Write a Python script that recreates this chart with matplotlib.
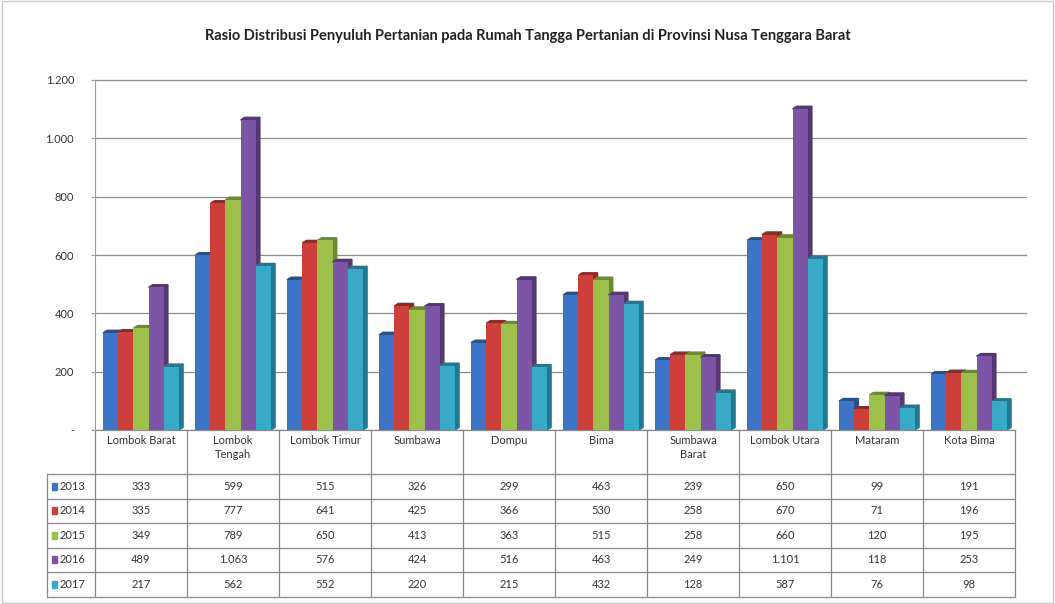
import matplotlib.pyplot as plt
import matplotlib.transforms as mtransforms
from matplotlib.patches import Polygon, Rectangle
import numpy as np

plt.rcParams['font.family'] = ['Lato', 'DejaVu Sans']

regions = ["Lombok Barat", "Lombok\nTengah", "Lombok Timur", "Sumbawa", "Dompu",
           "Bima", "Sumbawa\nBarat", "Lombok Utara", "Mataram", "Kota Bima"]
years = ["2013", "2014", "2015", "2016", "2017"]
v2013 = [333, 599, 515, 326, 299, 463, 239, 650, 99, 191]
v2014 = [335, 777, 641, 425, 366, 530, 258, 670, 71, 196]
v2015 = [349, 789, 650, 413, 363, 515, 258, 660, 120, 195]
v2016 = [489, 1063, 576, 424, 516, 463, 249, 1101, 118, 253]
v2017 = [217, 562, 552, 220, 215, 432, 128, 587, 76, 98]
series = [v2013, v2014, v2015, v2016, v2017]
yticks = [0, 200, 400, 600, 800, 1000, 1200]

colors = ['#3d74c8', '#cc3f3b', '#9dc04c', '#7d55a6', '#38aac8']
sides = ['#27508f', '#8f2a27', '#6c8a30', '#553873', '#237890']


def fmt(v):
    if v == 0:
        return "-"
    return f"{v:,}".replace(",", ".")


W, H = 1055, 604
fig = plt.figure(figsize=(W / 100, H / 100), dpi=100)
ax = fig.add_axes([95 / W, 1 - 430 / H, 920 / W, 350 / H])

x = np.arange(len(regions))
bw = 0.165
dx, dy = 0.045, 9
for i, vals in enumerate(series):
    xs = x - 2 * bw + i * bw
    ax.bar(xs, vals, bw, color=colors[i], zorder=3 + i * 0.1)
    for xc, v in zip(xs, vals):
        r = xc + bw / 2
        side = Polygon([(r, 0), (r + dx, dy), (r + dx, v + dy), (r, v)],
                       closed=True, color=sides[i], zorder=3 + i * 0.1 - 0.05)
        top = Polygon([(r - bw, v), (r - bw + dx, v + dy), (r + dx, v + dy), (r, v)],
                      closed=True, color=sides[i], zorder=3 + i * 0.1 - 0.05)
        ax.add_patch(side)
        ax.add_patch(top)

ax.set_xlim(-0.5, len(regions) - 0.5)
ax.set_ylim(0, 1200)
ax.set_yticks(yticks)
ax.set_yticklabels([fmt(t) for t in yticks], fontsize=8, color='#333333')
ax.set_xticks([])
for t in yticks[1:]:
    ax.plot([-0.5, len(regions) - 0.38], [t, t], color='#8c8c8c', lw=0.9,
            zorder=1, clip_on=False)
for s in ['top', 'right', 'bottom']:
    ax.spines[s].set_visible(False)
ax.spines['left'].set_color('#9a9a9a')
ax.tick_params(axis='y', length=3, color='#9a9a9a', pad=12)
ax.axhline(0, color='#9a9a9a', lw=1, zorder=2)

fig.suptitle("Rasio Distribusi Penyuluh Pertanian pada Rumah Tangga Pertanian di Provinsi Nusa Tenggara Barat",
             y=1 - 29 / H, fontsize=10.5, fontweight='bold', color='#222222')

# data table under the chart
tr = mtransforms.blended_transform_factory(ax.transData, fig.transFigure)
rows_px = [430, 474, 498.5, 523, 547.5, 572, 596.5]
ry = [1 - p / H for p in rows_px]
leg_left = -0.5 - 48 / 92
lc = '#8a8a8a'
for k, yy in enumerate(ry):
    x0 = -0.5 if k == 0 else leg_left
    ax.plot([x0, len(regions) - 0.5], [yy, yy], color=lc, lw=0.9,
            transform=tr, clip_on=False)
for c in range(len(regions) + 1):
    ax.plot([c - 0.5, c - 0.5], [ry[0], ry[-1]], color=lc, lw=0.9,
            transform=tr, clip_on=False)
ax.plot([leg_left, leg_left], [ry[1], ry[-1]], color=lc, lw=0.9,
        transform=tr, clip_on=False)

for c, name in enumerate(regions):
    ax.text(c, ry[0] - 0.008, name, transform=tr, ha='center', va='top',
            fontsize=8, color='#333333', linespacing=1.3)
for r, vals in enumerate(series):
    yc = (ry[r + 1] + ry[r + 2]) / 2
    for c, v in enumerate(vals):
        ax.text(c, yc, fmt(v), transform=tr, ha='center', va='center',
                fontsize=8, color='#333333')
    ax.add_patch(Rectangle((leg_left + 0.05, yc - 0.006), 0.06, 0.012,
                           color=colors[r], transform=tr, clip_on=False))
    ax.text(leg_left + 0.14, yc, years[r], transform=tr, ha='left', va='center',
            fontsize=8, color='#333333')

# outer frame
fig.patches.append(Rectangle((0.002, 0.002), 0.996, 0.996, fill=False,
                             edgecolor='#c8c8c8', lw=1, transform=fig.transFigure))

fig.savefig("out.png", dpi=100)
